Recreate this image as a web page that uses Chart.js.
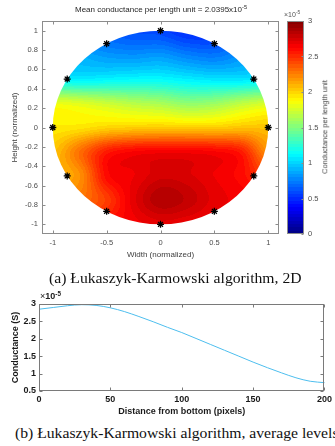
<!DOCTYPE html>
<html>
<head>
<meta charset="utf-8">
<script src="https://cdn.jsdelivr.net/npm/chart.js@4.4.0/dist/chart.umd.min.js"></script>
<style>
  body { margin: 0; width: 335px; height: 446px; background: #fff; position: relative; overflow: hidden;
         font-family: "Liberation Sans", Arial, sans-serif; }
  canvas { position: absolute; }
  .txt { position: absolute; white-space: nowrap; line-height: 1; }
  .title { left: 0; width: 322px; top: 6px; text-align: center; font-size: 8px; color: #262626; }
  .cbexp { left: 284px; top: 11px; font-size: 7px; color: #555; }
  .cblabel { left: 325px; top: 127px; font-size: 7.5px; color: #444; transform: translate(-50%, -50%) rotate(-90deg); }
  .lineexp { left: 40px; top: 292px; font-size: 9px; color: #222; }
  .caption { font-family: "Liberation Serif", "Times New Roman", serif; font-size: 14px; color: #111;
             transform: scaleX(1.12); transform-origin: 0 0; }
  sup { font-size: 70%; vertical-align: 0; position: relative; top: -0.55em; }
</style>
</head>
<body>
<canvas id="map" width="285" height="262" style="left:0;top:0"></canvas>
<canvas id="bar" width="55" height="262" style="left:280px;top:0"></canvas>
<canvas id="levels" width="335" height="126" style="left:0;top:292px"></canvas>

<div class="txt title">Mean conductance per length unit = 2.0395x10<sup>-5</sup></div>
<div class="txt cbexp">×10<sup>-5</sup></div>
<div class="txt cblabel">Conductance per length unit</div>
<div class="txt lineexp">×<b>10</b><sup><b>-5</b></sup></div>
<div class="txt caption" style="left:49px;top:272px">(a) Łukaszyk-Karmowski algorithm, 2D</div>
<div class="txt caption" style="left:15px;top:427px">(b) Łukaszyk-Karmowski algorithm, average levels</div>

<script>
// electrode positions on the unit circle
const electrodeX = [1, 0.866, 0.5, 0, -0.5, -0.866, -1, -0.866, -0.5, 0, 0.5, 0.866];
const electrodeY = [0, 0.5, 0.866, 1, 0.866, 0.5, 0, -0.5, -0.866, -1, -0.866, -0.5];

// conductance per length unit (x1e-5) sampled on a coarse grid
const gridX = [-1, -0.75, -0.5, -0.25, 0, 0.25, 0.5, 0.75, 1];
const gridY = [1, 0.75, 0.5, 0.25, 0, -0.25, -0.5, -0.75, -1];
const gridValues = [
    [0.70, 0.68, 0.65, 0.60, 0.58, 0.50, 0.52, 0.60, 0.70],
    [0.90, 0.88, 0.82, 0.80, 0.82, 0.75, 0.72, 0.80, 0.90],
    [1.10, 1.08, 1.10, 1.12, 1.12, 1.08, 1.05, 1.05, 1.08],
    [1.82, 1.78, 1.72, 1.66, 1.62, 1.55, 1.58, 1.68, 1.75],
    [1.93, 1.95, 2.00, 2.02, 2.03, 2.02, 2.02, 2.05, 2.05],
    [2.05, 2.30, 2.55, 2.63, 2.65, 2.65, 2.63, 2.55, 2.20],
    [2.10, 2.20, 2.60, 2.67, 2.75, 2.73, 2.67, 2.60, 2.45],
    [2.30, 2.30, 2.45, 2.70, 2.85, 2.80, 2.70, 2.65, 2.60],
    [2.50, 2.50, 2.60, 2.65, 2.70, 2.68, 2.65, 2.62, 2.60]
];
const colorMin = 0;
const colorMax = 3;
const colorLevels = 64;

const widthTicks = [-1, -0.5, 0, 0.5, 1];
const heightTicks = [-1, -0.8, -0.6, -0.4, -0.2, 0, 0.2, 0.4, 0.6, 0.8, 1];
const colorbarTicks = [0, 0.5, 1, 1.5, 2, 2.5, 3];

// average conductance (x1e-5 S) against distance from bottom
const distance = [0, 10, 20, 30, 40, 50, 60, 70, 80, 90, 100, 110, 120, 130, 140, 150, 160, 170, 180, 190, 200];
const conductance = [2.85, 2.90, 2.95, 2.98, 2.96, 2.89, 2.78, 2.64, 2.49, 2.33, 2.18, 2.01, 1.84, 1.67, 1.50, 1.33, 1.17, 1.02, 0.88, 0.78, 0.74];
const distanceTicks = [0, 50, 100, 150, 200];
const conductanceTicks = [0.5, 1, 1.5, 2, 2.5, 3];

Chart.defaults.font.family = '"Liberation Sans", Arial, sans-serif';

const clamp01 = v => Math.max(0, Math.min(1, v));

function jet(t) {
    return [
        Math.round(255 * clamp01(1.5 - Math.abs(4 * t - 3))),
        Math.round(255 * clamp01(1.5 - Math.abs(4 * t - 2))),
        Math.round(255 * clamp01(1.5 - Math.abs(4 * t - 1)))
    ];
}

function levelColor(value) {
    const t = clamp01((value - colorMin) / (colorMax - colorMin));
    const level = Math.min(colorLevels - 1, Math.floor(t * colorLevels));
    return jet((level + 0.5) / colorLevels);
}

function cubic(p0, p1, p2, p3, t) {
    return p1 + 0.5 * t * (p2 - p0 + t * (2 * p0 - 5 * p1 + 4 * p2 - p3 + t * (3 * (p1 - p2) + p3 - p0)));
}

function gridAt(r, c) {
    r = Math.max(0, Math.min(gridY.length - 1, r));
    c = Math.max(0, Math.min(gridX.length - 1, c));
    return gridValues[r][c];
}

// smooth shading between the sampled grid values
function sampleField(vx, vy) {
    const fc = (vx - gridX[0]) / (gridX[1] - gridX[0]);
    const fr = (gridY[0] - vy) / (gridY[0] - gridY[1]);
    const c = Math.floor(fc), r = Math.floor(fr);
    const tc = fc - c, tr = fr - r;
    const rows = [];
    for (let k = -1; k <= 2; k++) {
        rows.push(cubic(gridAt(r + k, c - 1), gridAt(r + k, c), gridAt(r + k, c + 1), gridAt(r + k, c + 2), tc));
    }
    return cubic(rows[0], rows[1], rows[2], rows[3], tr);
}

const fieldPlugin = {
    id: 'field',
    beforeDatasetsDraw(chart) {
        const { ctx, scales: { x, y } } = chart;
        const left = Math.floor(x.getPixelForValue(-1)), right = Math.ceil(x.getPixelForValue(1));
        const top = Math.floor(y.getPixelForValue(1)), bottom = Math.ceil(y.getPixelForValue(-1));
        const w = right - left + 1, h = bottom - top + 1;
        const off = document.createElement('canvas');
        off.width = w; off.height = h;
        const octx = off.getContext('2d');
        const img = octx.createImageData(w, h);
        for (let j = 0; j < h; j++) {
            const vy = y.getValueForPixel(top + j + 0.5);
            for (let i = 0; i < w; i++) {
                const vx = x.getValueForPixel(left + i + 0.5);
                const [r, g, b] = levelColor(sampleField(vx, vy));
                const p = (j * w + i) * 4;
                img.data[p] = r; img.data[p + 1] = g; img.data[p + 2] = b; img.data[p + 3] = 255;
            }
        }
        octx.putImageData(img, 0, 0);
        const cx = x.getPixelForValue(0), cy = y.getPixelForValue(0);
        ctx.save();
        ctx.beginPath();
        ctx.ellipse(cx, cy, x.getPixelForValue(1) - cx, cy - y.getPixelForValue(1), 0, 0, Math.PI * 2);
        ctx.clip();
        ctx.drawImage(off, left, top);
        ctx.restore();
    }
};

// axes box with inward tick marks on all four sides
const boxPlugin = {
    id: 'box',
    afterDatasetsDraw(chart, args, opts) {
        const { ctx, chartArea: a, scales } = chart;
        const l = Math.round(a.left) + 0.5, r = Math.round(a.right) - 0.5;
        const t = Math.round(a.top) + 0.5, b = Math.round(a.bottom) - 0.5;
        ctx.save();
        ctx.strokeStyle = opts.color;
        ctx.lineWidth = 1;
        ctx.strokeRect(l, t, r - l, b - t);
        ctx.beginPath();
        if (opts.xTicks) {
            scales.x.ticks.forEach(tk => {
                const px = Math.round(scales.x.getPixelForValue(tk.value)) + 0.5;
                ctx.moveTo(px, b); ctx.lineTo(px, b - opts.len);
                ctx.moveTo(px, t); ctx.lineTo(px, t + opts.len);
            });
        }
        scales.y.ticks.forEach(tk => {
            const py = Math.round(scales.y.getPixelForValue(tk.value)) + 0.5;
            if (opts.left) { ctx.moveTo(l, py); ctx.lineTo(l + opts.len, py); }
            ctx.moveTo(r, py); ctx.lineTo(r - opts.len, py);
        });
        ctx.stroke();
        ctx.restore();
    }
};

const fixedTicks = list => scale => { scale.ticks = list.map(v => ({ value: v })); };
const plainLabel = v => String(v);

// 2D conductance map
new Chart(document.getElementById('map'), {
    type: 'scatter',
    data: {
        datasets: [{
            data: electrodeX.map((v, i) => ({ x: v, y: electrodeY[i] })),
            pointStyle: 'star',
            radius: 3.5,
            borderColor: '#000',
            backgroundColor: '#000',
            borderWidth: 1.3
        }]
    },
    options: {
        responsive: false,
        animation: false,
        layout: { padding: { top: 21, right: 6, left: 0, bottom: 0 } },
        plugins: {
            legend: { display: false },
            tooltip: { enabled: false },
            box: { color: '#8c8c8c', len: 3, xTicks: true, left: true }
        },
        scales: {
            x: {
                type: 'linear', min: -1.1, max: 1.1,
                afterBuildTicks: fixedTicks(widthTicks),
                afterFit: s => { s.height = 28; },
                grid: { display: false, drawTicks: false },
                border: { display: false },
                ticks: { color: '#4d4d4d', font: { size: 7.5 }, padding: 4, maxRotation: 0, callback: plainLabel },
                title: { display: true, text: 'Width (normalized)', color: '#404040', font: { size: 8 }, padding: { top: 3, bottom: 2 } }
            },
            y: {
                type: 'linear', min: -1.1, max: 1.1,
                afterBuildTicks: fixedTicks(heightTicks),
                afterFit: s => { s.width = 42; },
                grid: { display: false, drawTicks: false },
                border: { display: false },
                ticks: { color: '#4d4d4d', font: { size: 7.5 }, padding: 4, callback: plainLabel },
                title: { display: true, text: 'Height (normalized)', color: '#404040', font: { size: 8 }, padding: { top: 10, bottom: 0 } }
            }
        }
    },
    plugins: [fieldPlugin, boxPlugin]
});

// colour scale bar
new Chart(document.getElementById('bar'), {
    type: 'bar',
    data: {
        labels: [''],
        datasets: [{
            data: [colorMax],
            categoryPercentage: 1,
            barPercentage: 1,
            borderWidth: 0,
            backgroundColor: context => {
                const { chart } = context;
                const area = chart.chartArea;
                if (!area) return '#000';
                const yScale = chart.scales.y;
                const g = chart.ctx.createLinearGradient(0, yScale.getPixelForValue(colorMin), 0, yScale.getPixelForValue(colorMax));
                for (let k = 0; k < colorLevels; k++) {
                    const [r, gg, b] = jet((k + 0.5) / colorLevels);
                    const c = `rgb(${r},${gg},${b})`;
                    g.addColorStop(k / colorLevels, c);
                    g.addColorStop((k + 1) / colorLevels, c);
                }
                return g;
            }
        }]
    },
    options: {
        responsive: false,
        animation: false,
        layout: { padding: { top: 21, left: 7, right: 0, bottom: 28 } },
        plugins: {
            legend: { display: false },
            tooltip: { enabled: false },
            box: { color: '#8c8c8c', len: 2, xTicks: false, left: false }
        },
        scales: {
            x: { display: false },
            y: {
                position: 'right', min: colorMin, max: colorMax,
                afterBuildTicks: fixedTicks(colorbarTicks),
                afterFit: s => { s.width = 31; },
                grid: { display: false, drawTicks: false },
                border: { display: false },
                ticks: { color: '#4d4d4d', font: { size: 7.5 }, padding: 4, callback: plainLabel }
            }
        }
    },
    plugins: [boxPlugin]
});

// average levels along the height
new Chart(document.getElementById('levels'), {
    type: 'line',
    data: {
        datasets: [{
            data: distance.map((d, i) => ({ x: d, y: conductance[i] })),
            borderColor: '#4dbeee',
            borderWidth: 1,
            pointRadius: 0,
            cubicInterpolationMode: 'monotone',
            clip: false
        }]
    },
    options: {
        responsive: false,
        animation: false,
        layout: { padding: { top: 12, right: 10, left: 0, bottom: 0 } },
        plugins: {
            legend: { display: false },
            tooltip: { enabled: false },
            box: { color: '#7a7a7a', len: 3, xTicks: true, left: true }
        },
        scales: {
            x: {
                type: 'linear', min: 0, max: 200,
                afterBuildTicks: fixedTicks(distanceTicks),
                afterFit: s => { s.height = 27; },
                grid: { display: false, drawTicks: false },
                border: { display: false },
                ticks: { color: '#1a1a1a', font: { size: 9, weight: 'bold' }, padding: 3, maxRotation: 0, callback: plainLabel },
                title: { display: true, text: 'Distance from bottom (pixels)', color: '#1a1a1a', font: { size: 9, weight: 'bold' }, padding: { top: 2, bottom: 1 } }
            },
            y: {
                type: 'linear', min: 0.5, max: 3,
                afterBuildTicks: fixedTicks(conductanceTicks),
                afterFit: s => { s.width = 39; },
                grid: { display: false, drawTicks: false },
                border: { display: false },
                ticks: { color: '#1a1a1a', font: { size: 9, weight: 'bold' }, padding: 3, callback: plainLabel },
                title: { display: true, text: 'Conductance (S)', color: '#1a1a1a', font: { size: 9, weight: 'bold' }, padding: { top: 10, bottom: 0 } }
            }
        }
    },
    plugins: [boxPlugin]
});
</script>
</body>
</html>
